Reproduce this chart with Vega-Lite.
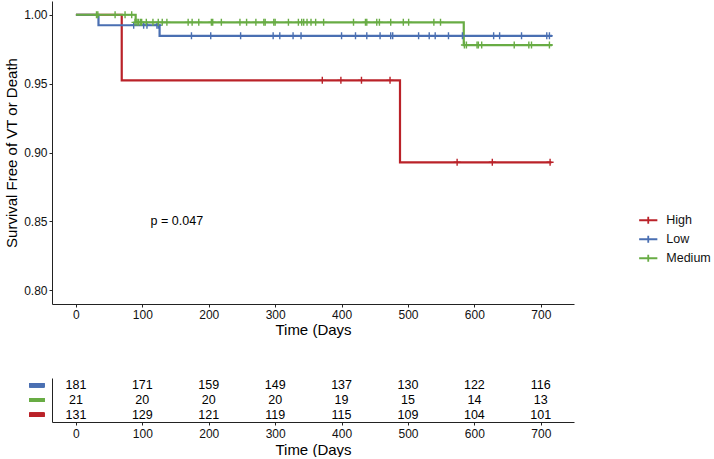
{
  "$schema": "https://vega.github.io/schema/vega-lite/v6.json",
  "padding": {"left": 4, "top": 1, "right": 0, "bottom": 0},
  "background": "white",
  "config": {
    "font": "Liberation Sans",
    "view": {"stroke": null},
    "axis": {
      "grid": false,
      "domainColor": "#222",
      "domainWidth": 1,
      "tickColor": "#222",
      "tickWidth": 1,
      "tickSize": 3,
      "labelPadding": 2,
      "labelFontSize": 12,
      "labelColor": "#111",
      "titleFontSize": 15,
      "titleFontWeight": "normal",
      "titleColor": "#000"
    },
    "legend": {"labelFontSize": 12.5, "labelColor": "#111"}
  },
  "datasets": {
    "curves": [
      {"strata": "High", "time": 0, "surv": 1},
      {"strata": "High", "time": 69, "surv": 0.9524},
      {"strata": "High", "time": 488, "surv": 0.8929},
      {"strata": "High", "time": 716, "surv": 0.8929},
      {"strata": "Low", "time": 0, "surv": 1},
      {"strata": "Low", "time": 34, "surv": 0.9924},
      {"strata": "Low", "time": 126, "surv": 0.9847},
      {"strata": "Low", "time": 717, "surv": 0.9847},
      {"strata": "Medium", "time": 0, "surv": 1},
      {"strata": "Medium", "time": 90, "surv": 0.9945},
      {"strata": "Medium", "time": 584, "surv": 0.978},
      {"strata": "Medium", "time": 717, "surv": 0.978}
    ],
    "censor": [
      {"strata": "High", "time": 371, "surv": 0.9524},
      {"strata": "High", "time": 399, "surv": 0.9524},
      {"strata": "High", "time": 430, "surv": 0.9524},
      {"strata": "High", "time": 473, "surv": 0.9524},
      {"strata": "High", "time": 574, "surv": 0.8929},
      {"strata": "High", "time": 627, "surv": 0.8929},
      {"strata": "High", "time": 714, "surv": 0.8929},
      {"strata": "Low", "time": 87, "surv": 0.9924},
      {"strata": "Low", "time": 102, "surv": 0.9924},
      {"strata": "Low", "time": 107, "surv": 0.9924},
      {"strata": "Low", "time": 122, "surv": 0.9924},
      {"strata": "Low", "time": 124, "surv": 0.9924},
      {"strata": "Low", "time": 174, "surv": 0.9847},
      {"strata": "Low", "time": 203, "surv": 0.9847},
      {"strata": "Low", "time": 248, "surv": 0.9847},
      {"strata": "Low", "time": 297, "surv": 0.9847},
      {"strata": "Low", "time": 307, "surv": 0.9847},
      {"strata": "Low", "time": 327, "surv": 0.9847},
      {"strata": "Low", "time": 339, "surv": 0.9847},
      {"strata": "Low", "time": 400, "surv": 0.9847},
      {"strata": "Low", "time": 421, "surv": 0.9847},
      {"strata": "Low", "time": 438, "surv": 0.9847},
      {"strata": "Low", "time": 458, "surv": 0.9847},
      {"strata": "Low", "time": 474, "surv": 0.9847},
      {"strata": "Low", "time": 477, "surv": 0.9847},
      {"strata": "Low", "time": 516, "surv": 0.9847},
      {"strata": "Low", "time": 532, "surv": 0.9847},
      {"strata": "Low", "time": 541, "surv": 0.9847},
      {"strata": "Low", "time": 561, "surv": 0.9847},
      {"strata": "Low", "time": 582, "surv": 0.9847},
      {"strata": "Low", "time": 629, "surv": 0.9847},
      {"strata": "Low", "time": 638, "surv": 0.9847},
      {"strata": "Low", "time": 671, "surv": 0.9847},
      {"strata": "Low", "time": 709, "surv": 0.9847},
      {"strata": "Low", "time": 713, "surv": 0.9847},
      {"strata": "Medium", "time": 31, "surv": 1},
      {"strata": "Medium", "time": 33, "surv": 1},
      {"strata": "Medium", "time": 59, "surv": 1},
      {"strata": "Medium", "time": 74, "surv": 1},
      {"strata": "Medium", "time": 84, "surv": 1},
      {"strata": "Medium", "time": 89, "surv": 0.9945},
      {"strata": "Medium", "time": 92, "surv": 0.9945},
      {"strata": "Medium", "time": 94, "surv": 0.9945},
      {"strata": "Medium", "time": 97, "surv": 0.9945},
      {"strata": "Medium", "time": 99, "surv": 0.9945},
      {"strata": "Medium", "time": 106, "surv": 0.9945},
      {"strata": "Medium", "time": 116, "surv": 0.9945},
      {"strata": "Medium", "time": 124, "surv": 0.9945},
      {"strata": "Medium", "time": 130, "surv": 0.9945},
      {"strata": "Medium", "time": 137, "surv": 0.9945},
      {"strata": "Medium", "time": 169, "surv": 0.9945},
      {"strata": "Medium", "time": 175, "surv": 0.9945},
      {"strata": "Medium", "time": 185, "surv": 0.9945},
      {"strata": "Medium", "time": 204, "surv": 0.9945},
      {"strata": "Medium", "time": 206, "surv": 0.9945},
      {"strata": "Medium", "time": 219, "surv": 0.9945},
      {"strata": "Medium", "time": 247, "surv": 0.9945},
      {"strata": "Medium", "time": 257, "surv": 0.9945},
      {"strata": "Medium", "time": 271, "surv": 0.9945},
      {"strata": "Medium", "time": 283, "surv": 0.9945},
      {"strata": "Medium", "time": 285, "surv": 0.9945},
      {"strata": "Medium", "time": 298, "surv": 0.9945},
      {"strata": "Medium", "time": 300, "surv": 0.9945},
      {"strata": "Medium", "time": 320, "surv": 0.9945},
      {"strata": "Medium", "time": 335, "surv": 0.9945},
      {"strata": "Medium", "time": 340, "surv": 0.9945},
      {"strata": "Medium", "time": 343, "surv": 0.9945},
      {"strata": "Medium", "time": 348, "surv": 0.9945},
      {"strata": "Medium", "time": 354, "surv": 0.9945},
      {"strata": "Medium", "time": 361, "surv": 0.9945},
      {"strata": "Medium", "time": 373, "surv": 0.9945},
      {"strata": "Medium", "time": 418, "surv": 0.9945},
      {"strata": "Medium", "time": 436, "surv": 0.9945},
      {"strata": "Medium", "time": 438, "surv": 0.9945},
      {"strata": "Medium", "time": 453, "surv": 0.9945},
      {"strata": "Medium", "time": 457, "surv": 0.9945},
      {"strata": "Medium", "time": 474, "surv": 0.9945},
      {"strata": "Medium", "time": 493, "surv": 0.9945},
      {"strata": "Medium", "time": 501, "surv": 0.9945},
      {"strata": "Medium", "time": 539, "surv": 0.9945},
      {"strata": "Medium", "time": 549, "surv": 0.9945},
      {"strata": "Medium", "time": 585, "surv": 0.978},
      {"strata": "Medium", "time": 588, "surv": 0.978},
      {"strata": "Medium", "time": 604, "surv": 0.978},
      {"strata": "Medium", "time": 606, "surv": 0.978},
      {"strata": "Medium", "time": 611, "surv": 0.978},
      {"strata": "Medium", "time": 660, "surv": 0.978},
      {"strata": "Medium", "time": 682, "surv": 0.978},
      {"strata": "Medium", "time": 686, "surv": 0.978},
      {"strata": "Medium", "time": 713, "surv": 0.978}
    ],
    "risk": [
      {"strata": "Low", "time": 0, "n": 181},
      {"strata": "Low", "time": 100, "n": 171},
      {"strata": "Low", "time": 200, "n": 159},
      {"strata": "Low", "time": 300, "n": 149},
      {"strata": "Low", "time": 400, "n": 137},
      {"strata": "Low", "time": 500, "n": 130},
      {"strata": "Low", "time": 600, "n": 122},
      {"strata": "Low", "time": 700, "n": 116},
      {"strata": "Medium", "time": 0, "n": 21},
      {"strata": "Medium", "time": 100, "n": 20},
      {"strata": "Medium", "time": 200, "n": 20},
      {"strata": "Medium", "time": 300, "n": 20},
      {"strata": "Medium", "time": 400, "n": 19},
      {"strata": "Medium", "time": 500, "n": 15},
      {"strata": "Medium", "time": 600, "n": 14},
      {"strata": "Medium", "time": 700, "n": 13},
      {"strata": "High", "time": 0, "n": 131},
      {"strata": "High", "time": 100, "n": 129},
      {"strata": "High", "time": 200, "n": 121},
      {"strata": "High", "time": 300, "n": 119},
      {"strata": "High", "time": 400, "n": 115},
      {"strata": "High", "time": 500, "n": 109},
      {"strata": "High", "time": 600, "n": 104},
      {"strata": "High", "time": 700, "n": 101}
    ],
    "pval": [{"label": "p = 0.047", "time": 152, "surv": 0.8505}]
  },
  "spacing": 41,
  "vconcat": [
    {
      "width": 522,
      "height": 303,
      "layer": [
        {
          "data": {"name": "curves"},
          "mark": {"type": "line", "interpolate": "step-after", "strokeWidth": 2.2},
          "encoding": {
            "x": {"field": "time", "type": "quantitative",
              "scale": {"domain": [-36, 750], "nice": false, "zero": false},
              "axis": {"values": [0, 100, 200, 300, 400, 500, 600, 700], "title": "Time (Days", "titlePadding": 2}},
            "y": {"field": "surv", "type": "quantitative",
              "scale": {"domain": [0.79, 1.01], "nice": false, "zero": false},
              "axis": {"values": [0.8, 0.85, 0.9, 0.95, 1.0], "format": ".2f", "title": "Survival Free of VT or Death", "titlePadding": 4}},
            "color": {"field": "strata", "type": "nominal",
              "scale": {"domain": ["High", "Low", "Medium"], "range": ["#BA2229", "#4A6FB2", "#68AC44"]},
              "legend": {"orient": "none", "legendX": 590, "legendY": 213, "title": null,
                "symbolType": "M-2.6,0H2.6M0,-1V1", "symbolSize": 49, "symbolStrokeWidth": 1.8,
                "symbolFillColor": "transparent", "labelOffset": 11.8, "rowPadding": 4}}
          }
        },
        {
          "data": {"name": "censor"},
          "mark": {"type": "point", "shape": "M-1,0H1M0,-1V1", "size": 49, "filled": false, "strokeWidth": 1.4, "opacity": 1},
          "encoding": {
            "x": {"field": "time", "type": "quantitative"},
            "y": {"field": "surv", "type": "quantitative"},
            "color": {"field": "strata", "type": "nominal", "legend": null}
          }
        },
        {
          "data": {"name": "pval"},
          "mark": {"type": "text", "fontSize": 12.5, "align": "center", "baseline": "middle", "color": "#000"},
          "encoding": {
            "x": {"field": "time", "type": "quantitative"},
            "y": {"field": "surv", "type": "quantitative"},
            "text": {"field": "label"}
          }
        }
      ]
    },
    {
      "width": 522,
      "height": 44,
      "data": {"name": "risk"},
      "layer": [
        {
          "mark": {"type": "text", "fontSize": 12.5, "color": "#000", "baseline": "middle"},
          "encoding": {
            "x": {"field": "time", "type": "quantitative",
              "scale": {"domain": [-36, 750], "nice": false, "zero": false},
              "axis": {"values": [0, 100, 200, 300, 400, 500, 600, 700], "title": "Time (Days", "titlePadding": 3, "labelPadding": 3}},
            "y": {"field": "strata", "type": "nominal",
              "scale": {"type": "point", "domain": ["Low", "Medium", "High"], "padding": 0.5},
              "axis": {"labels": false, "ticks": false, "title": null}},
            "text": {"field": "n"}
          }
        },
        {
          "mark": {"type": "rule", "strokeWidth": 4, "strokeCap": "butt"},
          "encoding": {
            "x": {"datum": -70, "type": "quantitative"},
            "x2": {"datum": -47.5},
            "y": {"field": "strata", "type": "nominal"},
            "color": {"field": "strata", "type": "nominal", "legend": null}
          }
        }
      ]
    }
  ]
}
